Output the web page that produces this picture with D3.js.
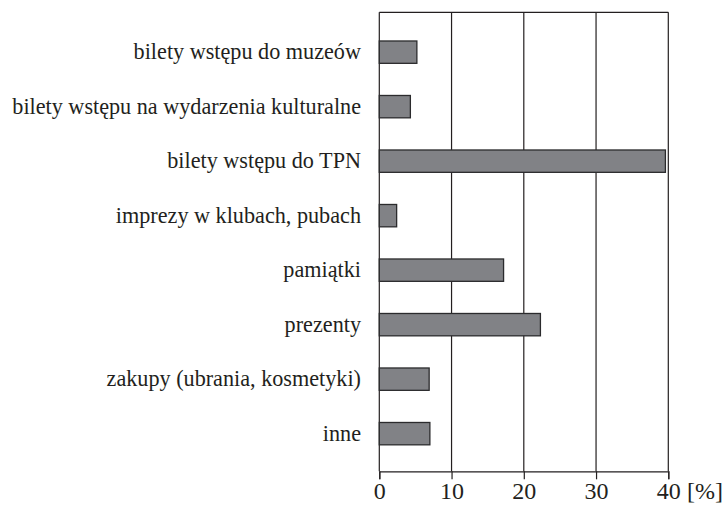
<!DOCTYPE html>
<html>
<head>
<meta charset="utf-8">
<script src="https://cdn.jsdelivr.net/npm/d3@7"></script>
<style>
  body { margin: 0; background: #fff; }
  text { font-family: "Liberation Serif", "DejaVu Serif", serif; fill: #231f20; }
</style>
</head>
<body>
<svg id="chart" width="726" height="507"></svg>
<script>
// data
let categories = [
  'bilety wstępu do muzeów',
  'bilety wstępu na wydarzenia kulturalne',
  'bilety wstępu do TPN',
  'imprezy w klubach, pubach',
  'pamiątki',
  'prezenty',
  'zakupy (ubrania, kosmetyki)',
  'inne'
]
let values = [5.2, 4.3, 39.6, 2.4, 17.2, 22.3, 6.9, 7.0]
let tickValues = [0, 10, 20, 30, 40]
let unitLabel = '[%]'

let svg = d3.select('#chart')

let plotLeft = 379.3, plotRight = 668.3, plotTop = 12.3, plotBottom = 471.3

let x = d3.scaleLinear().domain([0, 40]).range([plotLeft, plotRight])

let y = d3.scaleBand()
  .domain(categories)
  .range([plotTop, plotBottom])
  .paddingInner(0.59)
  .paddingOuter(0.506)
  .align(0.52)

// grid lines + frame
svg.append('g')
  .selectAll('line')
  .data(tickValues)
  .enter()
  .append('line')
  .attr('x1', d => x(d))
  .attr('x2', d => x(d))
  .attr('y1', plotTop)
  .attr('y2', plotBottom)
  .style('stroke', '#231f20')
  .style('stroke-width', 1.2)

svg.append('line')
  .attr('x1', plotLeft).attr('x2', plotRight)
  .attr('y1', plotTop).attr('y2', plotTop)
  .style('stroke', '#231f20')
  .style('stroke-width', 1.2)

// bars
svg.append('g')
  .selectAll('rect')
  .data(values)
  .enter()
  .append('rect')
  .attr('x', x(0))
  .attr('y', (d, i) => y(categories[i]))
  .attr('width', d => x(d) - x(0))
  .attr('height', y.bandwidth())
  .style('fill', '#818286')
  .style('stroke', '#2b2b2d')
  .style('stroke-width', 1.3)

// category labels
svg.append('g')
  .selectAll('text')
  .data(categories)
  .enter()
  .append('text')
  .attr('x', 361)
  .attr('y', d => y(d) + y.bandwidth() / 2)
  .attr('dy', '0.33em')
  .attr('text-anchor', 'end')
  .style('font-size', '22.2px')
  .text(d => d)

// bottom axis
let xAxis = svg.append('g')
  .attr('transform', 'translate(0,' + plotBottom + ')')
  .call(d3.axisBottom(x).tickValues(tickValues).tickSize(8).tickPadding(3).tickFormat(d3.format('d')))

xAxis.select('.domain')
  .attr('stroke', '#231f20')
  .attr('stroke-width', 1.2)
xAxis.selectAll('.tick line')
  .attr('stroke', '#231f20')
  .attr('stroke-width', 1.2)
xAxis.selectAll('.tick text')
  .attr('font-family', null)
  .attr('font-size', null)
  .style('font-size', '24px')
  .style('fill', '#231f20')

svg.append('text')
  .attr('x', 687)
  .attr('y', 499)
  .style('font-size', '24px')
  .text(unitLabel)
</script>
</body>
</html>
